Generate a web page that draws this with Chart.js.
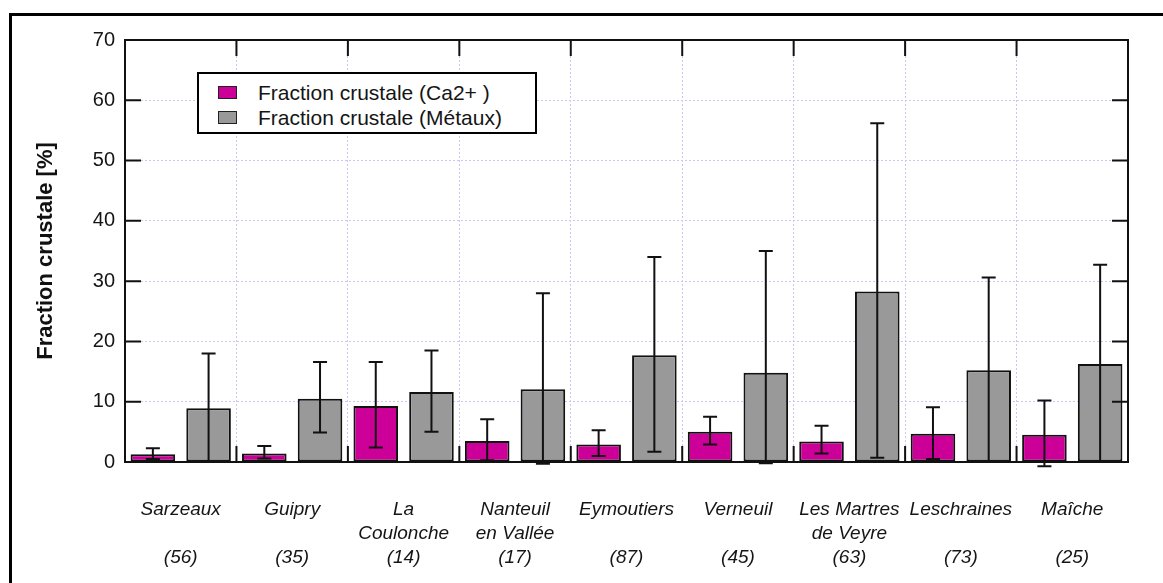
<!DOCTYPE html>
<html>
<head>
<meta charset="utf-8">
<script src="https://cdn.jsdelivr.net/npm/chart.js@4/dist/chart.umd.min.js"></script>
<style>
  html, body { margin: 0; padding: 0; background: #fff; }
  #wrap { position: relative; width: 1163px; height: 583px; overflow: hidden; }
  #c { position: absolute; left: 0; top: 0; }
  #legend { position: absolute; left: 197px; top: 72px; width: 336px; height: 58px;
            border: 2px solid #000; background: #fff; font-family: "Liberation Sans", Arial, sans-serif;
            font-size: 21px; color: #151515; }
  .row { position: absolute; left: 0; height: 24px; line-height: 24px; white-space: nowrap; }
  .sw { position: absolute; left: 19px; top: 5px; width: 17px; height: 11px; border: 1.5px solid #222; }
  .lt { position: absolute; left: 59px; top: 0; }
</style>
</head>
<body>
<div id="wrap">
  <canvas id="c" width="1163" height="583"></canvas>
  <div id="legend"></div>
</div>
<script>
// ---- data ----
const siteLine1 = ['Sarzeaux', 'Guipry', 'La', 'Nanteuil', 'Eymoutiers', 'Verneuil', 'Les Martres', 'Leschraines', 'Maîche'];
const siteLine2 = ['', '', 'Coulonche', 'en Vallée', '', '', 'de Veyre', '', ''];
const sampleCounts = ['(56)', '(35)', '(14)', '(17)', '(87)', '(45)', '(63)', '(73)', '(25)'];

const seriesNames = ['Fraction crustale (Ca2+ )', 'Fraction crustale (Métaux)'];

const caValues = [1.3, 1.4, 9.3, 3.5, 2.9, 5.0, 3.4, 4.7, 4.5];
const caHigh   = [2.3, 2.65, 16.6, 7.1, 5.25, 7.5, 6.0, 9.1, 10.2];
const caLow    = [0.5, 0.6, 2.4, 0.3, 1.0, 2.9, 1.4, 0.5, -0.7];

const metValues = [8.9, 10.5, 11.6, 12.05, 17.7, 14.8, 28.3, 15.2, 16.25];
const metHigh   = [18.0, 16.6, 18.5, 28.0, 34.0, 35.0, 56.2, 30.6, 32.7];
const metLow    = [0, 4.9, 5.0, -0.3, 1.7, -0.2, 0.7, 0, 0];

const yTicks = [0, 10, 20, 30, 40, 50, 60, 70];

// ---- build ----
const labels = siteLine1.map((s, i) => [s, siteLine2[i], sampleCounts[i]]);
const colors = ['#cc0099', '#999999'];
const errLow = [caLow, metLow];
const errHigh = [caHigh, metHigh];

const FONT = "'Liberation Sans', Arial, sans-serif";

const framePlugin = {
  id: 'frame',
  beforeDraw(chart) {
    const ctx = chart.ctx;
    ctx.save();
    ctx.fillStyle = '#fff';
    ctx.fillRect(0, 0, chart.width, chart.height);
    ctx.fillStyle = '#000';
    ctx.fillRect(9, 13, chart.width - 9, 3);
    ctx.fillRect(9, 13, 3, chart.height - 13);
    ctx.restore();
  },
  afterDatasetsDraw(chart) {
    const ctx = chart.ctx;
    const a = chart.chartArea;
    const ys = chart.scales.y;
    const xs = chart.scales.x;
    ctx.save();
    // error bars
    ctx.strokeStyle = '#111';
    ctx.lineWidth = 2;
    chart.data.datasets.forEach((ds, di) => {
      const meta = chart.getDatasetMeta(di);
      meta.data.forEach((bar, i) => {
        const x = bar.x;
        const yHi = ys.getPixelForValue(errHigh[di][i]);
        const yLo = ys.getPixelForValue(errLow[di][i]);
        ctx.beginPath();
        ctx.moveTo(x, yHi); ctx.lineTo(x, yLo);
        ctx.moveTo(x - 7, yHi); ctx.lineTo(x + 7, yHi);
        ctx.moveTo(x - 7, yLo); ctx.lineTo(x + 7, yLo);
        ctx.stroke();
      });
    });
    // plot frame
    ctx.strokeStyle = '#111';
    ctx.lineWidth = 2;
    ctx.strokeRect(a.left, a.top, a.right - a.left, a.bottom - a.top);
    // inner ticks on y (both sides)
    ctx.beginPath();
    yTicks.forEach(v => {
      const y = ys.getPixelForValue(v);
      ctx.moveTo(a.left, y); ctx.lineTo(a.left + 16, y);
      ctx.moveTo(a.right, y); ctx.lineTo(a.right - 16, y);
    });
    // ticks at category boundaries (top and bottom)
    const n = chart.data.labels.length;
    for (let i = 1; i < n; i++) {
      const x = (xs.getPixelForValue(i - 1) + xs.getPixelForValue(i)) / 2;
      ctx.moveTo(x, a.top); ctx.lineTo(x, a.top + 16);
      ctx.moveTo(x, a.bottom); ctx.lineTo(x, a.bottom - 16);
    }
    ctx.stroke();
    ctx.restore();
  }
};

new Chart(document.getElementById('c'), {
  type: 'bar',
  data: {
    labels: labels,
    datasets: [
      { label: seriesNames[0], data: caValues, backgroundColor: colors[0], borderColor: '#111', borderWidth: 2,
        barPercentage: 0.8, categoryPercentage: 1.0, borderSkipped: false },
      { label: seriesNames[1], data: metValues, backgroundColor: colors[1], borderColor: '#111', borderWidth: 2,
        barPercentage: 0.8, categoryPercentage: 1.0, borderSkipped: false }
    ]
  },
  options: {
    responsive: false,
    animation: false,
    devicePixelRatio: 1,
    layout: { padding: { left: 0, top: 40, right: 35, bottom: 0 } },
    plugins: { legend: { display: false }, tooltip: { enabled: false } },
    scales: {
      x: {
        offset: true,
        grid: { offset: true, color: '#c8c8f2', lineWidth: 1, drawTicks: false },
        border: { display: false, dash: [2, 2] },
        ticks: { color: '#151515', font: { family: FONT, size: 19, style: 'italic', lineHeight: 1.25 }, padding: 36, maxRotation: 0, autoSkip: false },
        afterFit(s) { s.height = 121; }
      },
      y: {
        min: 0, max: 70,
        grid: { color: '#c8c8f2', lineWidth: 1, drawTicks: false },
        border: { display: false, dash: [2, 2] },
        ticks: { stepSize: 10, color: '#151515', font: { family: FONT, size: 20 }, padding: 10 },
        title: { display: true, text: 'Fraction crustale [%]', color: '#111',
                 font: { family: FONT, size: 22, weight: 'bold' }, padding: { top: 33, bottom: 0 } },
        afterFit(s) { s.width = 125; }
      }
    }
  },
  plugins: [framePlugin]
});

// HTML legend built from series names and colours
const lg = document.getElementById('legend');
seriesNames.forEach((name, i) => {
  const row = document.createElement('div');
  row.className = 'row';
  row.style.top = (7 + i * 25) + 'px';
  const sw = document.createElement('div');
  sw.className = 'sw';
  sw.style.background = colors[i];
  const t = document.createElement('div');
  t.className = 'lt';
  t.textContent = name;
  row.appendChild(sw); row.appendChild(t);
  lg.appendChild(row);
});
</script>
</body>
</html>
